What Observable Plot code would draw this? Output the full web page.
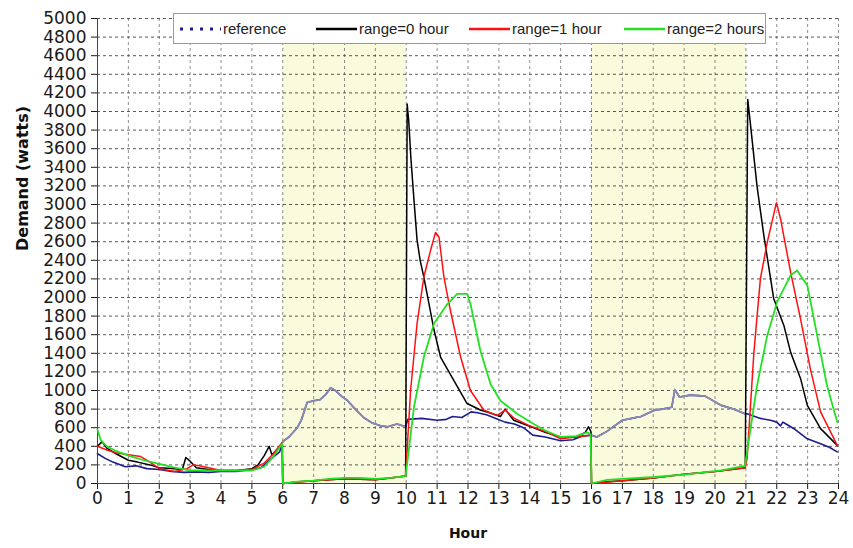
<!DOCTYPE html>
<html><head><meta charset="utf-8">
<script src="https://cdn.jsdelivr.net/npm/d3@7"></script>
<script src="https://cdn.jsdelivr.net/npm/@observablehq/plot@0.6"></script>
<style>
body{margin:0;background:#fff;font-family:Arial,"Liberation Sans",sans-serif;}
#wrap{position:relative;width:853px;height:548px;}
#legend{position:absolute;left:173px;top:13px;width:593px;height:31px;border:1px solid #9a9a9a;background:#fff;box-sizing:border-box;}
.item{position:absolute;top:0;height:29px;display:flex;align-items:center;font-size:15px;color:#222;white-space:nowrap;}
.item svg{margin-right:2px;}
</style></head><body><div id="wrap"><div id="chart"></div><div id="legend"></div></div>
<script>
// ---- data ----
const xTicks = d3.range(0, 25, 1);
const yTicks = d3.range(0, 5001, 200);
const shadeStart = [6, 16];
const shadeEnd = [10, 21];

const seriesNames = ["reference", "range=0 hour", "range=1 hour", "range=2 hours"];
const seriesColors = ["#1c1c8c", "#000000", "#ff1010", "#22e022"];

const refHour = [0,0.25,0.5,0.9,1.25,1.6,2.0,2.4,2.8,3.2,3.6,4.0,4.5,5.0,5.3,5.6,5.9,6.0,6.2,6.47,6.6,6.79,7.0,7.2,7.4,7.55,7.7,7.9,8.1,8.35,8.62,8.9,9.17,9.4,9.7,9.98,10.05,10.5,11.0,11.3,11.5,11.8,12.1,12.3,12.6,12.9,13.2,13.5,13.8,14.1,14.5,15.0,15.4,15.7,16.0,16.17,16.5,17.0,17.3,17.6,18.06,18.3,18.6,18.7,18.85,19.2,19.68,20.2,20.6,20.97,21.04,21.47,21.8,22.0,22.12,22.2,22.3,22.6,22.99,23.4,23.7,23.96];
const refDemand = [320,270,230,180,190,160,150,130,120,125,120,130,130,150,170,260,340,450,500,600,680,870,890,900,960,1030,1000,940,890,800,710,650,620,610,640,610,690,700,680,690,720,710,770,760,740,700,660,640,600,520,500,460,470,510,520,500,560,680,700,720,790,800,820,1010,930,950,940,840,800,750,750,700,680,660,620,660,640,580,480,430,390,340];

const r0Hour = [0,0.15,0.3,0.6,1.0,1.3,1.7,2.0,2.4,2.75,2.86,3.0,3.2,3.6,4.0,4.5,5.0,5.2,5.4,5.56,5.65,5.8,5.98,6.0,6.5,7.0,8.0,9.0,9.5,9.98,10.03,10.08,10.15,10.25,10.35,10.45,10.57,10.9,11.11,11.54,11.97,12.4,12.7,13.05,13.2,13.48,14.13,14.5,15.0,15.5,15.8,15.9,15.98,16.0,16.5,17,18,19,20,20.98,21.06,21.12,21.2,21.36,21.58,21.9,22.23,22.45,22.77,22.99,23.42,23.96];
const r0Demand = [400,450,380,320,250,230,200,170,160,150,280,240,170,150,140,140,160,200,300,400,310,360,430,0,20,30,50,40,60,80,4080,3900,3500,3050,2620,2400,2220,1650,1360,1110,860,790,760,720,800,680,600,550,500,500,550,610,560,0,20,30,60,100,130,170,4130,3950,3700,3200,2670,1990,1700,1410,1130,840,590,410];

const r1Hour = [0,0.3,0.6,1.0,1.4,1.7,2.0,2.5,2.9,3.1,3.3,3.6,4.0,4.5,5.0,5.4,5.7,5.98,6.0,7,8,9,9.98,10.14,10.35,10.57,10.79,10.95,11.06,11.22,11.43,11.76,12.08,12.51,12.94,13.2,13.5,14.0,14.5,15.0,15.5,15.98,16.0,17,18,19,20,20.98,21.04,21.26,21.47,21.69,21.99,22.12,22.45,22.77,23.09,23.42,23.96];
const r1Demand = [400,360,330,310,290,230,160,130,160,200,190,170,140,140,150,220,320,440,0,30,50,40,80,1000,1720,2220,2510,2700,2650,2220,1860,1360,1000,790,730,790,700,620,560,480,500,520,0,30,60,100,130,170,270,1410,2200,2590,3020,2850,2270,1770,1230,770,410];

const r2Hour = [0,0.1,0.3,0.6,1.0,1.5,2.0,2.5,3.0,3.5,4.0,4.5,5.0,5.4,5.7,5.98,6.0,6.5,7.0,7.5,8.0,8.5,9.0,9.5,9.98,10.25,10.57,10.9,11.33,11.65,11.97,12.08,12.4,12.73,13.05,13.59,14.13,14.5,15.0,15.5,15.86,15.97,16.0,16.5,17.0,18.06,19.14,20.2,20.97,21.36,21.69,22.01,22.45,22.66,22.99,23.31,23.63,23.96];
const r2Demand = [580,470,400,350,300,250,210,170,140,140,140,140,140,180,290,430,0,20,30,50,60,60,50,60,80,820,1360,1720,1930,2040,2040,1930,1430,1070,890,750,640,570,500,510,550,530,0,40,50,70,100,140,190,1050,1590,1950,2240,2290,2130,1590,1050,660];

// ---- build tables ----
const rows = (hs, ds) => hs.map((h, i) => ({hour: h, demand: ds[i]}));
const refRows = rows(refHour, refDemand);
const bandOf = h => shadeStart.findIndex((s, i) => h >= s && h <= shadeEnd[i]);
const refShadeRows = refRows.map(d => ({...d, band: bandOf(d.hour)})).filter(d => d.band >= 0);
const r0Rows = rows(r0Hour, r0Demand);
const r1Rows = rows(r1Hour, r1Demand);
const r2Rows = rows(r2Hour, r2Demand);
const bands = shadeStart.map((s, i) => ({x1: s, x2: shadeEnd[i]}));

const chart = Plot.plot({
  width: 853, height: 548,
  marginLeft: 97, marginRight: 15, marginTop: 18, marginBottom: 65,
  x: {domain: [0, 24]},
  y: {domain: [0, 5000]},
  style: {fontFamily: "'DejaVu Sans', sans-serif", fontSize: "17px", color: "#1a1a1a", background: "transparent"},
  marks: [
    Plot.rect(bands, {x1: "x1", x2: "x2", y1: 0, y2: 5000, fill: "#fafadc"}),
    Plot.gridY(yTicks, {stroke: "#222", strokeOpacity: 0.75, strokeDasharray: "3,3"}),
    Plot.gridX(xTicks, {stroke: "#444", strokeOpacity: 0.6, strokeDasharray: "3,3"}),
    Plot.axisY(yTicks, {tickSize: 6, tickPadding: 5, fontSize: 17, label: null, tickFormat: d => String(d)}),
    Plot.axisX(xTicks, {tickSize: 6, tickPadding: 2, fontSize: 17, label: null}),
    Plot.ruleX([0], {stroke: "#444"}),
    Plot.ruleY([0], {stroke: "#444"}),
    Plot.line(refRows, {x: "hour", y: "demand", stroke: seriesColors[0], strokeWidth: 1.6}),
    Plot.line(refShadeRows, {x: "hour", y: "demand", z: "band", stroke: "#8c8cb4", strokeWidth: 1.8, strokeDasharray: "5,1.5"}),
    Plot.line(r0Rows, {x: "hour", y: "demand", stroke: seriesColors[1], strokeWidth: 1.5}),
    Plot.line(r1Rows, {x: "hour", y: "demand", stroke: seriesColors[2], strokeWidth: 1.5}),
    Plot.line(r2Rows, {x: "hour", y: "demand", stroke: seriesColors[3], strokeWidth: 1.8}),
    Plot.text(["Demand (watts)"], {text: d => d, frameAnchor: "left", rotate: -90, dx: -75, fontSize: 16, fontWeight: "bold", fill: "#111"}),
    Plot.text(["Hour"], {text: d => d, frameAnchor: "bottom", dy: 54, fontSize: 14, fontWeight: "bold", fill: "#111"})
  ]
});
document.getElementById("chart").appendChild(chart);

// ---- legend ----
const legend = document.getElementById("legend");
const itemLeft = [5, 141, 294, 449];
seriesNames.forEach((name, i) => {
  const div = document.createElement("div");
  div.className = "item";
  div.style.left = itemLeft[i] + "px";
  const dash = i === 0 ? 'stroke-dasharray="3,7"' : '';
  const sw = i === 0 ? 3 : 2.5;
  div.innerHTML = `<svg width="42" height="10"><line x1="1" y1="5" x2="42" y2="5" stroke="${seriesColors[i]}" stroke-width="${sw}" ${dash}/></svg><span>${name}</span>`;
  legend.appendChild(div);
});
</script>
</body></html>
